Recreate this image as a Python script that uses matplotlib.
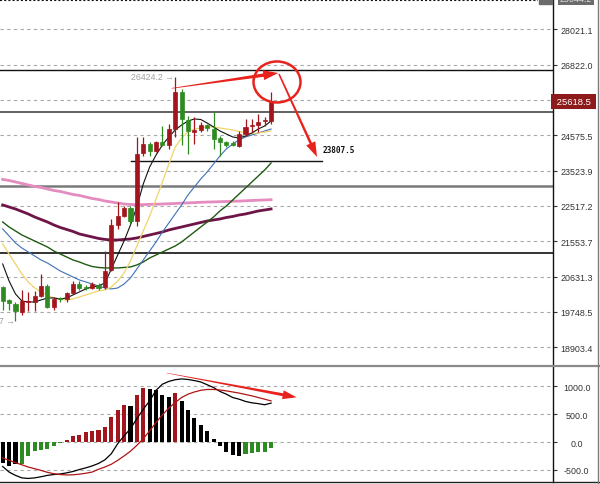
"""Candlestick chart with moving averages and MACD, drawn to match the reference screenshot."""

import matplotlib

matplotlib.use("Agg")
import matplotlib.pyplot as plt
import numpy as np
from matplotlib import transforms
from matplotlib.lines import Line2D
from matplotlib.patches import Ellipse, Polygon, Rectangle
from matplotlib.ticker import FixedLocator, NullLocator

plt.rcParams["font.family"] = ["Liberation Sans", "DejaVu Sans"]

# ---- candles (43 bars) ----
opens = [20360, 20040, 19943, 19745, 20000, 20000, 20150, 20400, 19862, 20080,
         20067, 20217, 20430, 20370, 20340, 20420, 20355, 20800, 21992, 22247,
         22451, 22108, 24040, 24310, 24110, 24380, 24280, 24765, 25915, 25050,
         24680, 24730, 24890, 24765, 24480, 24360, 24330, 24262, 24613, 24850,
         24890, 25000, 25010]
highs = [20400, 20067, 19990, 20292, 20240, 20275, 20698, 20443, 20117, 20110,
         20250, 20527, 20530, 20420, 20490, 20480, 21304, 22155, 22627, 22520,
         22520, 24513, 24512, 24370, 24410, 24860, 24919, 26424.2, 26022, 25175,
         25130, 24970, 24920, 25292, 24560, 24400, 24390, 24710, 25074, 25074,
         25229, 25130, 25915]
lows = [19790, 19790, 19536.7, 19675, 19770, 19760, 20110, 19850, 19795, 19990,
        20000, 20192, 20300, 20280, 20317, 20300, 20317, 20775, 21883, 22200,
        22010, 21973, 23952, 23960, 24060, 24240, 24160, 24512, 24285, 24011,
        24310, 24660, 24690, 24160, 23960, 24230, 24250, 24210, 24560, 24660,
        24660, 24870, 24919]
closes = [20020, 19960, 19760, 20017, 20010, 20134, 20390, 19862, 20067, 20060,
          20217, 20443, 20350, 20350, 20443, 20340, 20783, 21992, 22230, 22451,
          22108, 24011, 24310, 24110, 24360, 24280, 24765, 25915, 25074, 24713,
          24720, 24890, 24810, 24461, 24360, 24280, 24280, 24613, 24840, 24890,
          24975, 25050, 25618.5]

# ---- moving averages ----
ma5 = [20955, 20519, 20192, 20017, 19993, 19993, 20042, 20092, 20092, 20067,
       20092, 20167, 20242, 20317, 20367, 20392, 20468, 20826, 21190, 21560,
       21992, 22487, 23136, 23628, 23981, 24280, 24522, 24734, 24888, 25012,
       25074, 25058, 24950, 24827, 24704, 24613, 24522, 24492, 24552, 24643,
       24765, 24858, 25012]
ma10 = [21480, 21216, 20955, 20698, 20494, 20342, 20242, 20167, 20092, 20055,
        20042, 20067, 20117, 20167, 20217, 20267, 20292, 20367, 20519, 20724,
        21033, 21427, 21829, 22238, 22710, 23194, 23716, 24220, 24491, 24673,
        24765, 24796, 24827, 24827, 24796, 24765, 24735, 24689, 24643, 24628,
        24643, 24673, 24704]
ma20 = [21883, 21695, 21507, 21374, 21269, 21164, 21059, 20981, 20878, 20775,
        20698, 20621, 20545, 20494, 20443, 20392, 20342, 20317, 20342, 20443,
        20596, 20826, 21059, 21295, 21534, 21802, 22046, 22293, 22543, 22824,
        23050, 23280, 23482, 23716, 23952, 24160, 24310, 24431, 24522, 24583,
        24643, 24704, 24765]
ma30 = [22073, 21937, 21829, 21721, 21641, 21560, 21480, 21401, 21295, 21216,
        21138, 21059, 21007, 20942, 20890, 20865, 20852, 20852, 20852, 20865,
        20878, 20929, 21007, 21111, 21190, 21269, 21348, 21427, 21534, 21668,
        21802, 21937, 22073, 22210, 22376, 22515, 22682, 22852, 23021, 23194,
        23366, 23540, 23746]
ma60 = [22543, 22487, 22431, 22362, 22293, 22210, 22141, 22073, 21992, 21924,
        21870, 21816, 21748, 21708, 21668, 21628, 21601, 21587, 21587, 21601,
        21614, 21641, 21681, 21721, 21761, 21802, 21856, 21897, 21937, 21978,
        22019, 22060, 22100, 22128, 22155, 22196, 22224, 22265, 22293, 22334,
        22376, 22403, 22431]
ma120 = [23266, 23237, 23194, 23151, 23108, 23065, 23036, 22993, 22951, 22923,
         22880, 22838, 22810, 22767, 22724, 22696, 22654, 22626, 22598, 22570,
         22556, 22550, 22553, 22559, 22564, 22570, 22576, 22584, 22593, 22601,
         22609, 22618, 22623, 22629, 22634, 22640, 22646, 22651, 22660, 22668,
         22676, 22682, 22690]

# ---- MACD ----
macd_hist = [-385, -427, -397, -397, -247, -157, -150, -126, -78, -18,
             36, 102, 132, 175, 198, 217, 265, 446, 583, 662,
             650, 842, 970, 957, 939, 848, 806, 884, 746, 583,
             433, 313, 193, 54, -78, -175, -235, -247, -223, -199,
             -187, -175, -102]
hist_colors = list("kkkggggggg" "rrrrrrrrrr" "krrkkkkrkk" "kkkkkkkkgg" "ggg")
macd_dif = [-440, -540, -600, -645, -655, -645, -625, -600, -585, -575,
            -555, -530, -495, -465, -430, -385, -320, -210, -30, 110,
            240, 420, 590, 740, 930, 1040, 1090, 1120, 1135, 1125,
            1105, 1080, 1030, 980, 910, 860, 800, 770, 730, 705,
            690, 670, 700]
macd_dea = [-285, -330, -370, -410, -450, -480, -510, -545, -570, -585,
            -592, -590, -578, -562, -540, -490, -450, -400, -330, -250,
            -165, -60, 60, 200, 350, 490, 610, 710, 800, 860,
            900, 930, 945, 945, 935, 920, 900, 880, 855, 830,
            800, 770, 740]

# ---- axis ticks and drawn levels ----
price_ticks = [28021.1, 26822.0, 24575.5, 23523.9, 22517.2, 21553.7, 20631.3, 19748.5, 18903.4]
hidden_grid = 25674.0
last_price = 25618.5
top_price = 29044.2
level_lines = [26642, 25301, 23070, 21242]
support_level = 23807.5
macd_ticks = [1000.0, 500.0, 0.0, -500.0]

RED = "#A3151C"
GREEN = "#2E8B22"
ARROW_RED = "#E8231E"
GRID = dict(color="#a8a8a8", linestyle=(0, (3, 3)), linewidth=0.8)


def red_arrow(ax, start, end, tail0=0.6, tail1=3.2, head_len=14, head_w=11):
    p0 = ax.transData.transform(start)
    p1 = ax.transData.transform(end)
    d = p1 - p0
    u = d / np.hypot(*d)
    n = np.array([-u[1], u[0]])
    base = p1 - u * head_len
    pts = [p0 + n * tail0 / 2, base + n * tail1 / 2, base + n * head_w / 2, p1,
           base - n * head_w / 2, base - n * tail1 / 2, p0 - n * tail0 / 2]
    ax.add_patch(Polygon(pts, closed=True, transform=transforms.IdentityTransform(),
                         facecolor=ARROW_RED, edgecolor="none", clip_on=False, zorder=9))


def setup_right_axis(ax, ticks, labels):
    ax.yaxis.tick_right()
    ax.yaxis.set_major_locator(FixedLocator(ticks))
    ax.yaxis.set_minor_locator(NullLocator())
    ax.set_yticklabels(labels)
    ax.tick_params(axis="y", length=3, width=0.8, color="#333333", pad=14, labelsize=6.4,
                   labelcolor="#333333")
    for lbl in ax.get_yticklabels():
        lbl.set_ha("center")
    ax.set_xticks([])
    for side in ("left", "top", "bottom"):
        ax.spines[side].set_visible(False)
    ax.spines["right"].set_linewidth(1.0)
    ax.spines["right"].set_color("#111111")


fig = plt.figure(figsize=(6, 4.85), dpi=100)
ax = fig.add_axes([0, 1 - 365 / 485, 553 / 600, 365 / 485])
ax2 = fig.add_axes([0, 2 / 485, 553 / 600, 116 / 485])

n = len(closes)
x = np.arange(n)
xlim = (-0.42, 86.12)

# main price panel
ax.set_yscale("log")
ax.set_xlim(*xlim)
ax.set_ylim(18515, 29088)
setup_right_axis(ax, price_ticks, [f"{v:.1f}" for v in price_ticks])
for v in price_ticks + [hidden_grid]:
    ax.axhline(v, zorder=0, **GRID)

ax.axhline(level_lines[0], color="#111111", lw=1.0, zorder=1)
ax.axhline(level_lines[1], color="#555555", lw=1.3, zorder=1)
ax.axhline(level_lines[2], color="#7a7a7a", lw=1.8, zorder=1)
ax.axhline(level_lines[3], color="#111111", lw=1.2, zorder=1)
ax.plot([20.1, 49.97], [support_level, support_level], color="#111111", lw=1.0, zorder=1)
ax.annotate(f"{support_level:.1f}", (50.1, support_level), xytext=(0, 8),
            textcoords="offset points", fontsize=5.6, fontweight="bold",
            family="DejaVu Sans Mono", color="#111111", va="center", ha="left")

ax.plot(x, ma120, color="#E48BC0", lw=2.0, zorder=2)
ax.plot(x, ma60, color="#6E1447", lw=2.0, zorder=2)
ax.plot(x, ma30, color="#1E5A12", lw=1.0, zorder=3)
ax.plot(x, ma20, color="#3C70B4", lw=0.8, zorder=3)
ax.plot(x, ma10, color="#F0D36A", lw=0.9, zorder=3)
ax.plot(x, ma5, color="#111111", lw=0.8, zorder=3)

o = np.array(opens, dtype=float)
c = np.array(closes, dtype=float)
colors = [RED if cc >= oo else GREEN for oo, cc in zip(o, c)]
ax.vlines(x, lows, highs, colors=colors, lw=0.9, zorder=4)
ax.bar(x, np.abs(c - o), bottom=np.minimum(o, c), width=0.64, color=colors,
       edgecolor=colors, linewidth=0.5, zorder=5)

ax.annotate(f"{highs[27]:.1f} \u2192", (26.8, highs[27]), fontsize=6.3, color="#a0a0a0",
            ha="right", va="center")
ax.annotate(f"{lows[2]:.1f} \u2192", (1.9, lows[2]), fontsize=6.3, color="#a0a0a0",
            ha="right", va="center")

# last price tag
ax.text(1.0015, last_price, f" {last_price:.1f} ", transform=ax.get_yaxis_transform(),
        fontsize=6.8, color="white", ha="left", va="center", zorder=10,
        bbox=dict(boxstyle="square,pad=0.3", facecolor="#8E1B1B", edgecolor="none"))

# annotations
circle_tr = fig.dpi_scale_trans + transforms.ScaledTranslation(42.93, 26249, ax.transData)
ax.add_patch(Ellipse((0, 0), 0.47, 0.41, transform=circle_tr, fill=False,
                     edgecolor=ARROW_RED, lw=1.8, zorder=9, clip_on=False))
red_arrow(ax, (26.45, 26044), (43.13, 26542), tail1=3.4, head_len=15, head_w=10)
red_arrow(ax, (43.24, 26510), (49.19, 23922), tail0=1.6, tail1=2.6, head_len=15, head_w=10)

# MACD panel
ax2.set_xlim(*xlim)
ax2.set_ylim(-719, 1367)
setup_right_axis(ax2, macd_ticks, [f"{v:.1f}" for v in macd_ticks])
for v in macd_ticks:
    ax2.axhline(v, zorder=0, **GRID)
hc = {"k": "#000000", "r": RED, "g": GREEN}
ax2.bar(x, macd_hist, width=0.64, color=[hc[k] for k in hist_colors], zorder=2)
ax2.plot(x, macd_dif, color="#000000", lw=0.9, zorder=3)
ax2.plot(x, macd_dea, color="#B01515", lw=0.9, zorder=3)
red_arrow(ax2, (25.66, 1241), (46.0, 804), tail0=0.4, tail1=3.0, head_len=14, head_w=9)

# frame lines of the trading window
fig.add_artist(Line2D([0, 1], [1 - 366.5 / 485] * 2, color="#8a8a8a", lw=1.6))
fig.add_artist(Line2D([0, 1], [1 - 483 / 485] * 2, color="#222222", lw=1.0))
fig.add_artist(Line2D([598 / 600] * 2, [0, 1], color="#7a7a7a", lw=1.0))
fig.add_artist(Line2D([0, 538 / 600], [1 - 1.3 / 485] * 2, color="#111111", lw=1.5,
                      linestyle=(0, (1, 1))))
fig.add_artist(Rectangle((539 / 600, 1 - 5 / 485), 13 / 600, 5 / 485,
                         transform=fig.transFigure, color="#6b6b6b"))
fig.text(576 / 600, 1 + 0.5 / 485, f"{top_price:.1f}", fontsize=6.4, color="#dddddd",
         ha="center", va="center",
         bbox=dict(boxstyle="square,pad=0.25", facecolor="#6b6b6b", edgecolor="none"))

fig.savefig("out.png", dpi=100, facecolor="white")
